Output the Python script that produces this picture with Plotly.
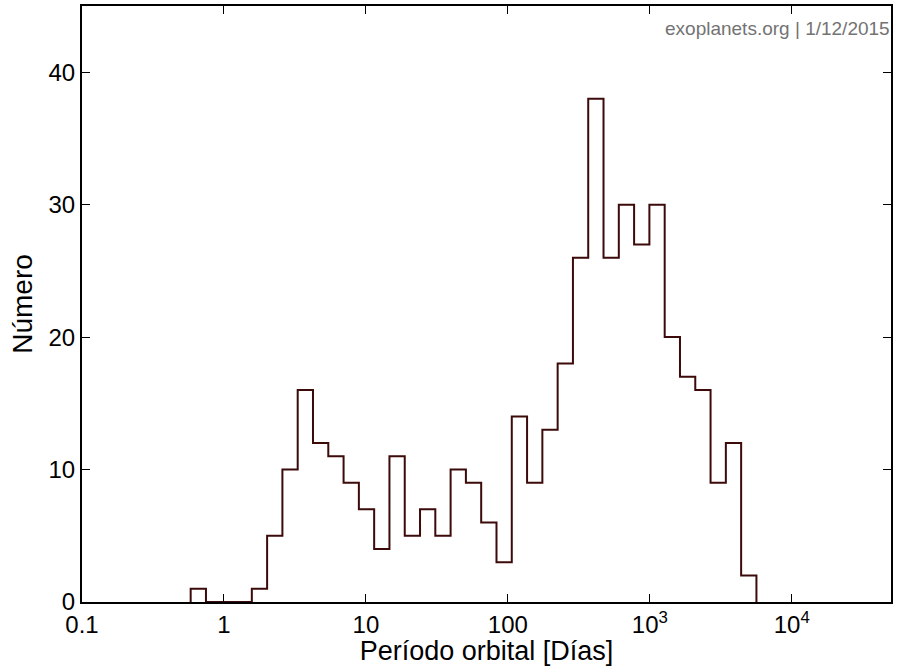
import numpy as np
import plotly.graph_objects as go

# Histogram of orbital periods (log-spaced bins)
log_edge_start = -0.2345
log_edge_stop = 3.751
counts = [1, 0, 0, 0, 1, 5, 10, 16, 12, 11, 9, 7, 4, 11, 5, 7, 5, 10, 9, 6, 3,
          14, 9, 13, 18, 26, 38, 26, 30, 27, 30, 20, 17, 16, 9, 12, 2]
x_tickvals = [0.1, 1, 10, 100, 1000, 10000]
x_ticktext = ["0.1", "1", "10", "100", "10<sup>3</sup>", "10<sup>4</sup>"]
y_tickvals = [0, 10, 20, 30, 40]

edges = 10 ** np.linspace(log_edge_start, log_edge_stop, len(counts) + 1)
xs = [edges[0]] + list(edges[:-1]) + [edges[-1]]
ys = [0] + counts + [0]

fig = go.Figure()
fig.add_trace(go.Scatter(x=xs, y=ys, mode="lines", line_shape="hv",
                         line=dict(color="#3d0a0a", width=2), showlegend=False))

font = "Liberation Sans, Arial, sans-serif"
fig.update_layout(
    width=899, height=666,
    margin=dict(l=82, r=8, t=6, b=64),
    paper_bgcolor="white", plot_bgcolor="white",
    font=dict(family=font, color="black", size=24),
    xaxis=dict(type="log", range=[-1, np.log10(5e4)], tickvals=x_tickvals, ticktext=x_ticktext,
               ticks="inside", ticklen=8, tickwidth=1, tickcolor="black", mirror="ticks",
               showline=True, linecolor="black", linewidth=2, showgrid=False, zeroline=False,
               title=dict(text="Período orbital [Días]", font=dict(size=27), standoff=3),
               tickfont=dict(size=24), automargin=False),
    yaxis=dict(range=[0, 45], tickvals=y_tickvals,
               ticks="inside", ticklen=8, tickwidth=1, tickcolor="black", mirror="ticks",
               showline=True, linecolor="black", linewidth=2, showgrid=False, zeroline=False,
               title=dict(text="Número", font=dict(size=28), standoff=8),
               tickfont=dict(size=24), automargin=False),
)
fig.add_annotation(text="exoplanets.org | 1/12/2015", xref="paper", yref="paper",
                   x=1.001, y=0.962, xanchor="right", yanchor="middle", showarrow=False,
                   font=dict(size=19, color="#737373", family=font))

fig.write_html("out.html")
